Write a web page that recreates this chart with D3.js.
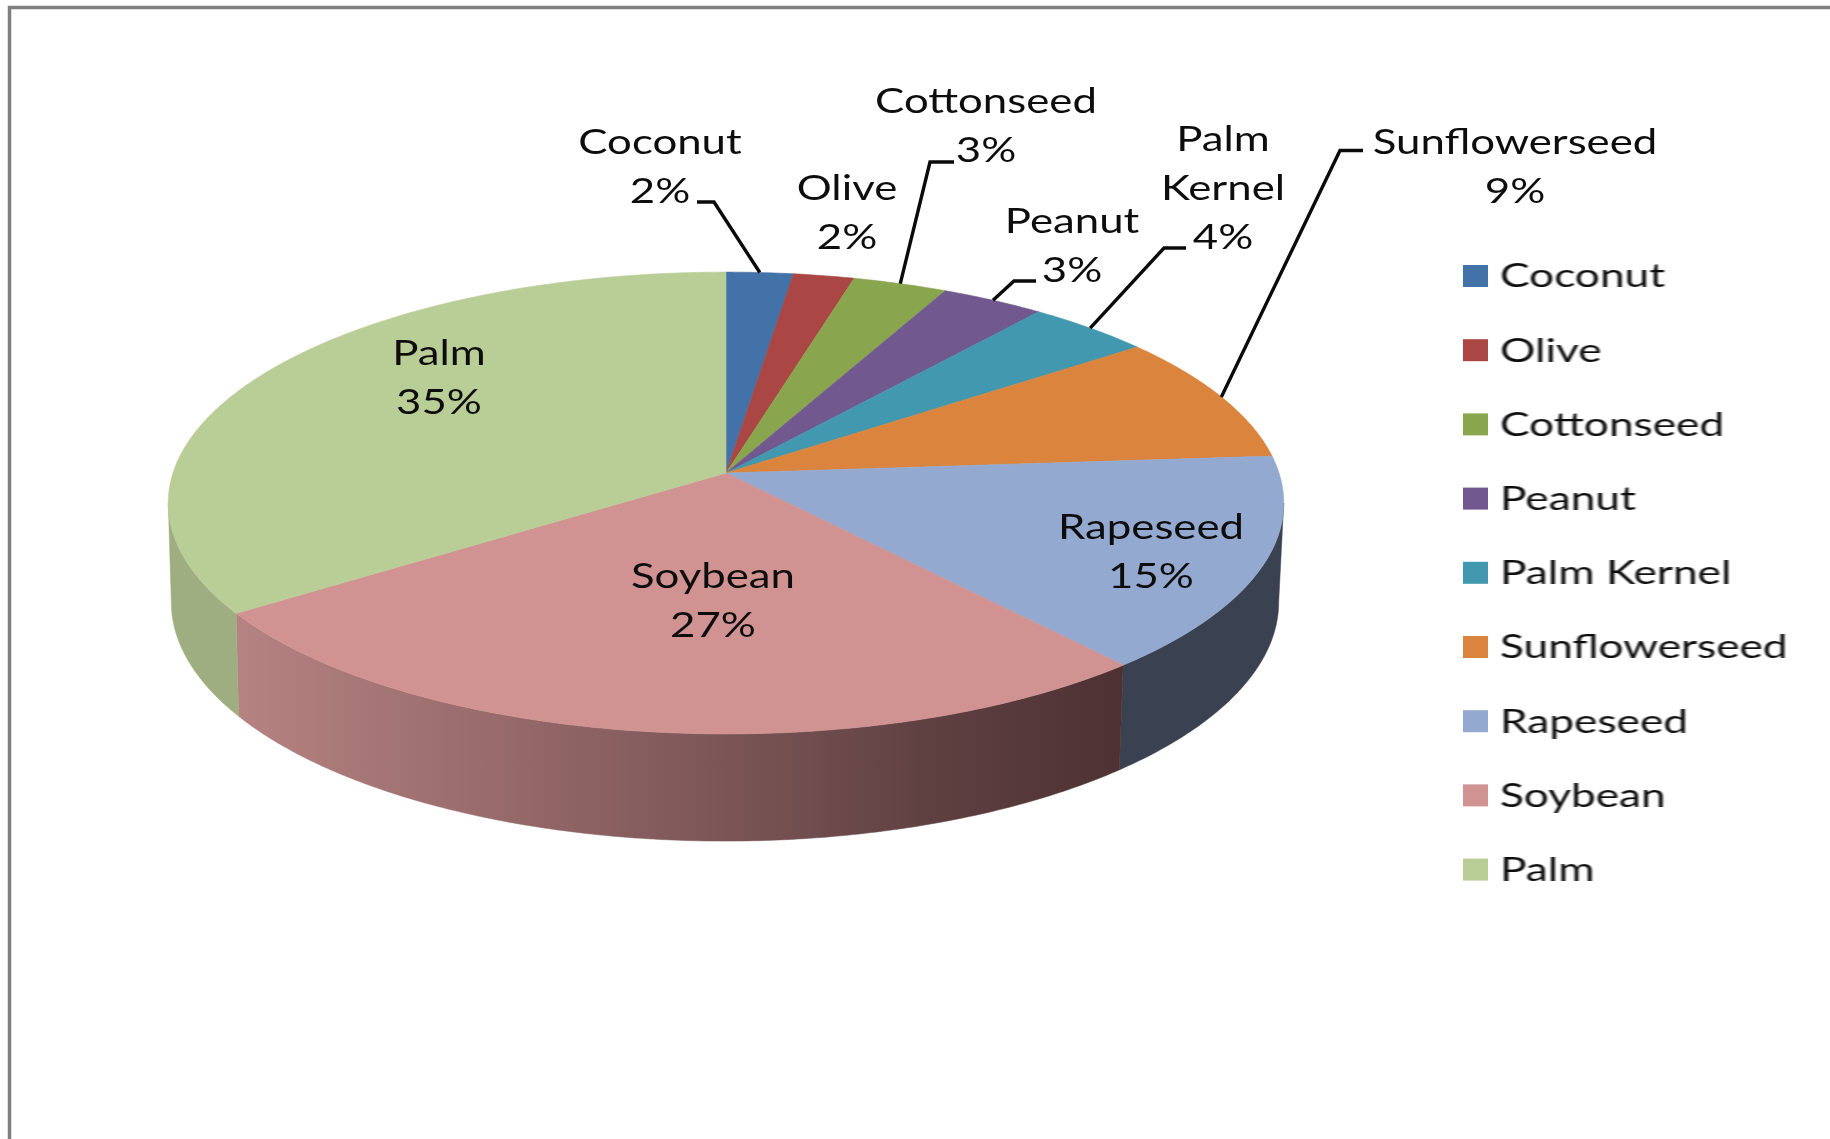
<!DOCTYPE html>
<html><head><meta charset="utf-8">
<script src="https://cdn.jsdelivr.net/npm/d3@7"></script>
<style>html,body{margin:0;padding:0;background:#fff;overflow:hidden}svg{display:block}text{font-family:Lato,"Open Sans",sans-serif;fill:#111}</style>
</head><body><svg id="c" width="1830" height="1139"></svg>
<script>
const categories=["Coconut","Olive","Cottonseed","Peanut","Palm Kernel","Sunflowerseed","Rapeseed","Soybean","Palm"];
const shares=[2.2,2.0,3.1,3.4,4.1,9.0,15.0,26.5,34.7];
const percentLabels=["2%","2%","3%","3%","4%","9%","15%","27%","35%"];
const colors=["#4272a8","#aa4643","#89a54e","#71588f","#4198af","#db843d","#93a9cf","#d19392","#b9cd96"];
const wallColors=["#2d4462","#652a28","#52632f","#443556","#276069","#834f25","#3a4252","#d19392","#9fae80"];

// layout (not data)
const top3d={cx:726,cy:473,A:553,B:227,p:0.13};
const bot3d={cx:725,cy:571,A:549,B:235,p:0.13};
const LABEL={fs:35,lh:49,stretch:1.25};
const LEG={x:1463,y0:276,dy:74.2,w:25,h:22,tx:1500,fs:33,stretch:1.34};
const labelLines={"Palm Kernel":["Palm","Kernel"]};
const labelPos={Coconut:[660,145],Olive:[847,191],Cottonseed:[986,104],Peanut:[1072,224],"Palm Kernel":[1223,142],Sunflowerseed:[1515,145],Rapeseed:[1151,530],Soybean:[713,579],Palm:[439,356]};
const leaderElbows={Coconut:[[697,202],[714,202]],Cottonseed:[[954,162],[930,162]],Peanut:[[1036,281],[1014,281]],"Palm Kernel":[[1186,248],[1164,248]],Sunflowerseed:[[1363,150.5],[1340,150.5]]};

const svg=d3.select("#c");
const defs=svg.append("defs");
const g=defs.append("linearGradient").attr("id","soyWall").attr("gradientUnits","userSpaceOnUse").attr("x1",245).attr("x2",1121).attr("y1",0).attr("y2",0);
[[0,"#b48280"],[0.3,"#96696a"],[0.55,"#7b5556"],[0.8,"#5d3f40"],[1,"#4e3133"]].forEach(s=>g.append("stop").attr("offset",s[0]).attr("stop-color",s[1]));
const soft=defs.append("filter").attr("id","soft").attr("x","-5%").attr("y","-20%").attr("width","110%").attr("height","140%");
soft.append("feGaussianBlur").attr("stdDeviation",0.6);

// frame
svg.append("path").attr("d","M9.5,1139V7.5H1830").attr("fill","none").attr("stroke","#808080").attr("stroke-width",3.5);

const color=d3.scaleOrdinal(categories,colors);
const wallColor=d3.scaleOrdinal(categories,wallColors);
const pie=d3.pie().sort(null).value(d=>d.v).startAngle(0).endAngle(2*Math.PI);
const arcs=pie(categories.map((c,i)=>({c,v:shares[i],pct:percentLabels[i]})));

function proj(m,t){const X=Math.sin(t),Y=Math.cos(t),w=1+m.p*Y;return [m.cx+m.A*X/w,m.cy-m.B*Y/w];}
function samples(a,b){const n=Math.max(2,Math.ceil((b-a)/0.01));return d3.range(n+1).map(i=>a+(b-a)*i/n);}
const line=d3.line();

// side wall: the part of the rim facing the viewer
const sil0=Math.acos(-top3d.p),sil1=2*Math.PI-sil0;
arcs.forEach(d=>{
  const a=Math.max(d.startAngle,sil0),b=Math.min(d.endAngle,sil1);
  if(b<=a)return;
  const pts=samples(a,b);
  const poly=pts.map(t=>proj(top3d,t)).concat(pts.slice().reverse().map(t=>proj(bot3d,t)));
  svg.append("path").attr("d",line(poly)+"Z").attr("fill",d.data.c==="Soybean"?"url(#soyWall)":wallColor(d.data.c))
    .attr("stroke",d.data.c==="Soybean"?"url(#soyWall)":wallColor(d.data.c)).attr("stroke-width",0.5);
});
// top face
arcs.forEach(d=>{
  const poly=[[top3d.cx,top3d.cy]].concat(samples(d.startAngle,d.endAngle).map(t=>proj(top3d,t)));
  svg.append("path").attr("d",line(poly)+"Z").attr("fill",color(d.data.c)).attr("stroke",color(d.data.c)).attr("stroke-width",0.6);
});
// leaders
arcs.forEach(d=>{
  const e=leaderElbows[d.data.c]; if(!e)return;
  svg.append("path").attr("d",line(e.concat([proj(top3d,(d.startAngle+d.endAngle)/2)])))
   .attr("fill","none").attr("stroke","#0a0a0a").attr("stroke-width",3.4);
});
// text helper: horizontally stretched text, anchored around x
function stext(str,x,y,fs,k,anchor){
  svg.append("text").attr("transform",`translate(${x},${y}) scale(${k},1)`).attr("text-anchor",anchor)
    .attr("dominant-baseline","middle").attr("font-size",fs).attr("filter","url(#soft)").text(str);
}
// data labels
arcs.forEach(d=>{
  const lines=(labelLines[d.data.c]||[d.data.c]).concat([d.data.pct]);
  const [x,y]=labelPos[d.data.c];
  lines.forEach((l,i)=>stext(l,x,y+i*LABEL.lh,LABEL.fs,LABEL.stretch,"middle"));
});
// legend
categories.forEach((c,i)=>{
  const y=LEG.y0+i*LEG.dy;
  svg.append("rect").attr("x",LEG.x).attr("y",y-LEG.h/2).attr("width",LEG.w).attr("height",LEG.h).attr("fill",color(c));
  stext(c,LEG.tx,y+3,LEG.fs,LEG.stretch,"start");
});
</script></body></html>
